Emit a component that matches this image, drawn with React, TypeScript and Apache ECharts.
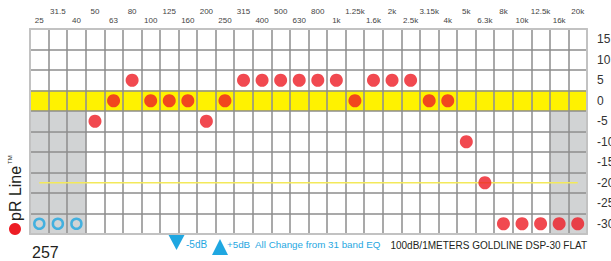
import React, { useEffect, useRef } from "react";
import * as echarts from "echarts";

// 31-band style EQ frequency labels (30 shown columns)
const bands = [
  "25", "31.5", "40", "50", "63", "80", "100", "125", "160", "200",
  "250", "315", "400", "500", "630", "800", "1k", "1.25k", "1.6k", "2k",
  "2.5k", "3.15k", "4k", "5k", "6.3k", "8k", "10k", "12.5k", "16k", "20k",
];
// dB levels (rows, bottom to top)
const levels = ["-30", "-25", "-20", "-15", "-10", "-5", "0", "5", "10", "15"];
// gain per band (dB)
const gains = [
  -30, -30, -30, -5, 0, 5, 0, 0, 0, -5,
  0, 5, 5, 5, 5, 5, 5, 0, 5, 5,
  5, 0, 0, -10, -20, -30, -30, -30, -30, -30,
];
// bands shown as open rings (bypassed)
const bypassedBands = ["25", "31.5", "40"];
// reference (flat) row and guide level
const flatLevel = "0";
const guideLevel = "-20";
// shaded out-of-range bands and rows
const shadedBands = ["25", "31.5", "40", "16k", "20k"];
const shadedLevels = ["-30", "-25", "-20", "-15", "-10", "-5"];

const FONT = '"Liberation Sans", Arial, Helvetica, sans-serif';
const RED = "#ed1c24";
const BLUE = "#1fa7e1";
const GRID_LINE = "#8c8c8c";
const BORDER = "#c2c2c2";

export default function App() {
  const ref = useRef<HTMLDivElement>(null);

  useEffect(() => {
    if (!ref.current) return;
    const chart = echarts.init(ref.current, null, { renderer: "svg" });

    const cellRender = (params: any, api: any) => {
      const c = api.coord([api.value(0), api.value(1)]);
      const s = api.size([1, 1]);
      return {
        type: "rect",
        shape: { x: c[0] - s[0] / 2, y: c[1] - s[1] / 2, width: s[0], height: s[1] },
        style: { fill: api.visual("color") },
      };
    };

    const yellowCells = bands.map((b) => [b, flatLevel]);
    const grayCells: any[] = [];
    shadedBands.forEach((b) => shadedLevels.forEach((l) => grayCells.push([b, l])));

    const redDots: any[] = [];
    const rings: any[] = [];
    bands.forEach((b, i) => {
      const pt = [b, String(gains[i])];
      if (bypassedBands.includes(b)) rings.push(pt);
      else redDots.push(pt);
    });

    chart.setOption({
      animation: false,
      textStyle: { fontFamily: FONT },
      grid: {
        left: 30,
        top: 29,
        right: 24,
        bottom: 27,
        containLabel: false,
        outerBoundsMode: "none",
      },
      xAxis: [
        {
          type: "category",
          data: bands,
          position: "top",
          z: 3,
          axisLine: { show: true, onZero: false, lineStyle: { color: BORDER, width: 2 } },
          axisTick: { show: false },
          splitLine: { show: true, interval: 0, lineStyle: { color: GRID_LINE, width: 1.5 } },
          axisLabel: {
            interval: 0,
            margin: 3.5,
            color: "#444",
            fontFamily: FONT,
            formatter: (v: string, i: number) =>
              i % 2 === 0 ? `{a|${v}}` : `{a|${v}}\n{a| }`,
            rich: { a: { fontSize: 8, lineHeight: 9.5, color: "#444", fontFamily: FONT } },
          },
        },
        {
          type: "category",
          data: bands,
          position: "bottom",
          z: 4,
          axisLine: { show: true, onZero: false, lineStyle: { color: BORDER, width: 2 } },
          axisTick: { show: false },
          axisLabel: { show: false },
          splitLine: { show: false },
        },
      ],
      yAxis: [
        {
          type: "category",
          data: levels,
          position: "right",
          z: 3,
          axisLine: { show: true, onZero: false, lineStyle: { color: BORDER, width: 2 } },
          axisTick: { show: false },
          splitLine: { show: true, interval: 0, lineStyle: { color: GRID_LINE, width: 1.5 } },
          axisLabel: {
            interval: 0,
            margin: 10,
            color: "#333",
            fontSize: 12,
            fontFamily: FONT,
            align: "left",
          },
        },
        {
          type: "category",
          data: levels,
          position: "left",
          z: 4,
          axisLine: { show: true, onZero: false, lineStyle: { color: BORDER, width: 2 } },
          axisTick: { show: false },
          axisLabel: { show: false },
          splitLine: { show: false },
        },
      ],
      series: [
        {
          type: "custom",
          name: "flat",
          z: 1,
          renderItem: cellRender,
          itemStyle: { color: "#fff200" },
          encode: { x: 0, y: 1 },
          data: yellowCells,
        },
        {
          type: "custom",
          name: "shaded",
          z: 1,
          renderItem: cellRender,
          itemStyle: { color: "#d1d3d4" },
          encode: { x: 0, y: 1 },
          data: grayCells,
        },
        {
          type: "line",
          name: "guide",
          z: 5,
          symbol: "none",
          lineStyle: { color: "#f3e95a", width: 1.5 },
          data: [[bands[0], guideLevel], [bands[bands.length - 1], guideLevel]],
        },
        {
          type: "scatter",
          name: "gain",
          z: 6,
          symbol: "circle",
          symbolSize: 13,
          itemStyle: { color: RED },
          data: redDots,
        },
        {
          type: "scatter",
          name: "bypassed",
          z: 6,
          symbol: "circle",
          symbolSize: 10,
          itemStyle: { color: "rgba(0,0,0,0)", borderColor: BLUE, borderWidth: 2.5 },
          data: rings,
        },
      ],
      graphic: [
        {
          type: "text",
          x: 15,
          y: 221,
          rotation: Math.PI / 2,
          style: {
            text: "pR Line",
            fontSize: 16,
            fontFamily: FONT,
            fill: "#231f20",
            align: "left",
            verticalAlign: "middle",
          },
        },
        {
          type: "text",
          x: 10,
          y: 164,
          rotation: Math.PI / 2,
          style: {
            text: "TM",
            fontSize: 6,
            fontFamily: FONT,
            fill: "#231f20",
            align: "left",
            verticalAlign: "middle",
          },
        },
        { type: "circle", shape: { cx: 15, cy: 229, r: 6 }, style: { fill: RED } },
        {
          type: "text",
          x: 32,
          y: 252,
          style: {
            text: "257",
            fontSize: 16,
            fontFamily: FONT,
            fill: "#231f20",
            align: "left",
            verticalAlign: "middle",
          },
        },
        {
          type: "polygon",
          shape: { points: [[168, 234], [185, 234], [176.5, 250]] },
          style: { fill: BLUE },
        },
        {
          type: "text",
          x: 186,
          y: 244,
          style: { text: "-5dB", fontSize: 10, fontFamily: FONT, fill: BLUE, verticalAlign: "middle" },
        },
        {
          type: "polygon",
          shape: { points: [[212, 255], [228, 255], [220, 239]] },
          style: { fill: BLUE },
        },
        {
          type: "text",
          x: 227,
          y: 244,
          style: {
            text: "+5dB\u00a0 All Change from 31 band EQ",
            fontSize: 9.8,
            fontFamily: FONT,
            fill: BLUE,
            verticalAlign: "middle",
          },
        },
        {
          type: "text",
          x: 587,
          y: 245,
          style: {
            text: "100dB/1METERS GOLDLINE DSP-30 FLAT",
            fontSize: 10,
            fontFamily: FONT,
            fill: "#231f20",
            align: "right",
            verticalAlign: "middle",
          },
        },
      ],
    });

    return () => chart.dispose();
  }, []);

  return (
    <div
      ref={ref}
      style={{ position: "fixed", left: 0, top: 0, width: 611, height: 261, background: "#fff" }}
    />
  );
}
